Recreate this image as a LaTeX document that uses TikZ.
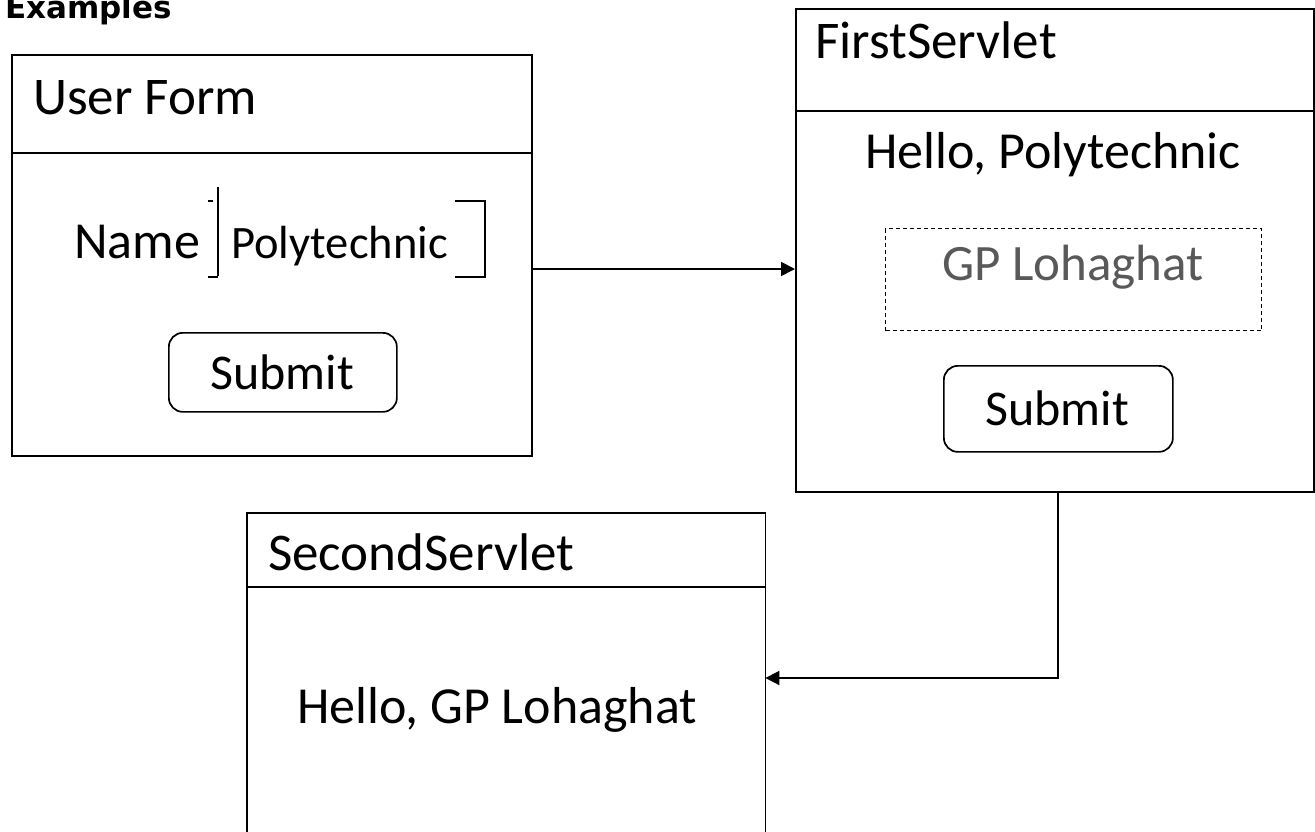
\documentclass[tikz,border=0pt]{standalone}
\usepackage{fontspec}
\setmainfont{Carlito}
\newfontfamily\exfont{DejaVu Sans}
\usetikzlibrary{arrows.meta,calc}
\definecolor{txtgray}{HTML}{595959}
\begin{document}
\begin{tikzpicture}[x=1pt,y=-1pt,
  frame/.style={draw, line width=1.7pt, inner sep=0pt, anchor=north west},
  rule/.style={line width=1.7pt},
  btn/.style={draw, line width=1.7pt, rounded corners=14pt, inner sep=0pt, anchor=north west},
  big/.style={inner sep=0pt, font=\fontsize{51}{60}\selectfont},
  title/.style={inner sep=0pt, anchor=base west, font=\fontsize{53}{62}\selectfont},
  hello/.style={inner sep=0pt, anchor=base, font=\fontsize{52}{61}\selectfont},
  conn/.style={line width=1.8pt, -{Triangle[length=14pt,width=14pt]}}]
\useasboundingbox (0,0) rectangle (1315,831);
% heading
\node[inner sep=0pt, anchor=base west, font=\exfont\bfseries\fontsize{31}{36}\selectfont] (ex) at (5,18) {Examples};
% User Form
\node[frame, minimum width=520pt, minimum height=401pt] (uf) at (11,54) {};
\draw[rule] (uf.west |- 0,153) -- (uf.east |- 0,153);
\node[title] (uft) at (33,114) {User Form};
\node[big, anchor=base west, font=\fontsize{52}{60}\selectfont] (nm) at (74,258) {Name};
\node[big, anchor=base west, font=\fontsize{46.5}{55}\selectfont] (pt) at (231,258) {Polytechnic};
\draw[line width=2.6pt] (218,187) -- (218,276);
\draw[line width=1.2pt] (208,201) -- (213,201);
\draw[line width=1.2pt] (208,277) -- (218,277);
\draw[line width=1.7pt] (455,201) -- (485,201) -- (485,277) -- (455,277);
\node[btn, minimum width=228pt, minimum height=79pt] (b1) at (168,332) {};
\node[big, anchor=base, font=\fontsize{50}{60}\selectfont] (b1t) at (282,389) {Submit};
% FirstServlet
\node[frame, minimum width=518pt, minimum height=483pt] (fs) at (795,8) {};
\draw[rule] (fs.west |- 0,111) -- (fs.east |- 0,111);
\node[title] (fst) at (815,58) {FirstServlet};
\node[hello] (hp) at (1053,168) {Hello, Polytechnic};
\node[draw, line width=1.4pt, dash pattern=on 4pt off 3pt, inner sep=0pt, anchor=north west, minimum width=376pt, minimum height=102pt] (gp) at (885,228) {};
\node[big, anchor=base, text=txtgray] (gpt) at (1073,280) {GP Lohaghat};
\node[btn, minimum width=229pt, minimum height=86pt] (b2) at (943,365) {};
\node[big, anchor=base, font=\fontsize{50}{60}\selectfont] (b2t) at (1057,425) {Submit};
% SecondServlet (open at the bottom)
\node[inner sep=0pt, anchor=north west, minimum width=518pt, minimum height=340pt] (ss) at (247,513) {};
\draw[rule] (ss.south west) -- (ss.north west) -- (ss.north east) -- (ss.south east);
\draw[rule] (ss.west |- 0,587) -- (ss.east |- 0,587);
\node[title] (sst) at (268,570) {SecondServlet};
\node[hello] (hg) at (497,723) {Hello, GP Lohaghat};
% connectors
\draw[conn] (uf.east |- 0,269) -- (fs.west |- 0,269);
\draw[conn] (fs.south -| 1058,0) -- (1058,678) -- (ss.east |- 0,678);
\end{tikzpicture}
\end{document}
